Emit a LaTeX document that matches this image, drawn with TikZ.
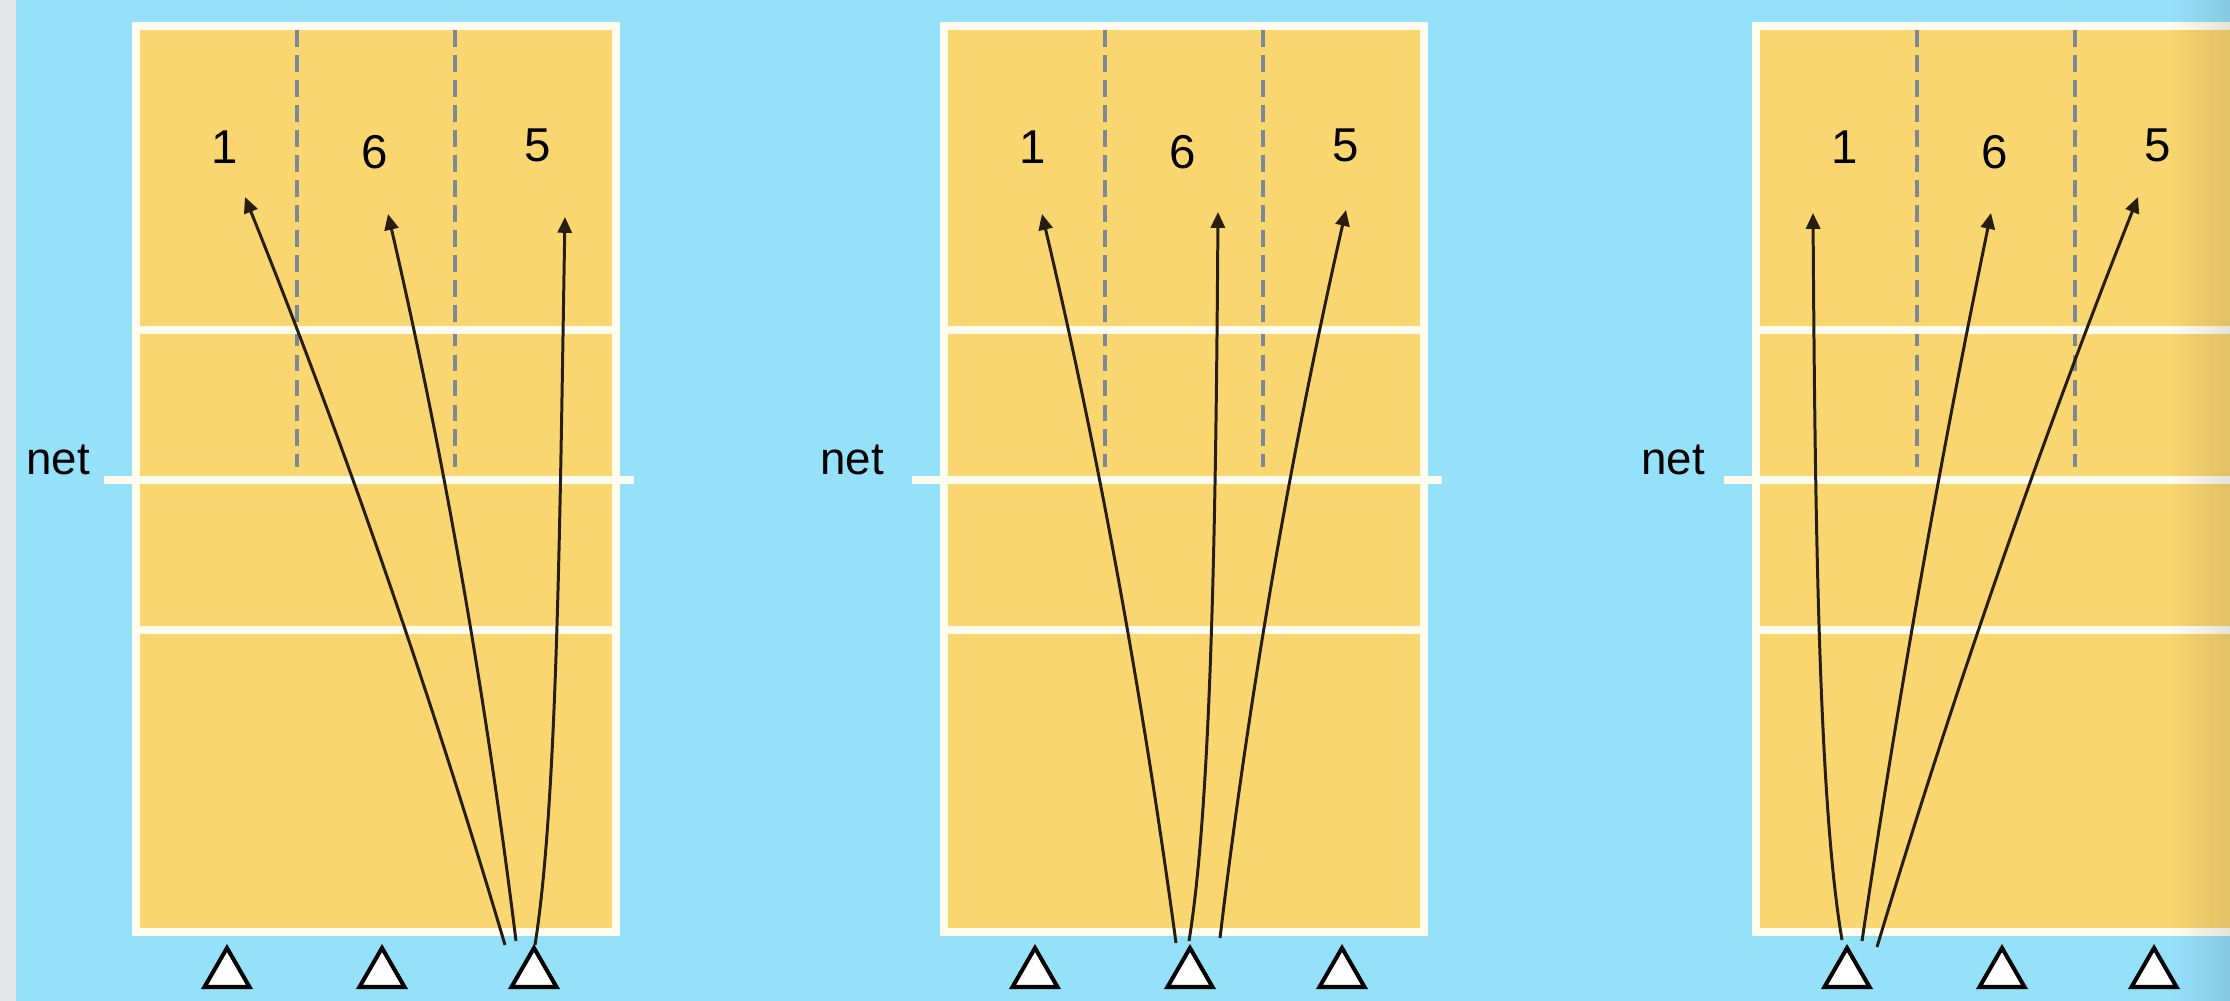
\documentclass[tikz,border=0pt]{standalone}
\usepackage{fontspec}
\setmainfont{Liberation Sans}
\usetikzlibrary{shapes.geometric,arrows.meta,fadings}
\definecolor{bgblue}{RGB}{150,225,250}
\definecolor{stripgrey}{RGB}{228,230,232}
\definecolor{courtyellow}{RGB}{250,214,112}
\definecolor{linewhite}{RGB}{255,252,240}
\definecolor{dashgrey}{RGB}{125,136,150}
\definecolor{arrowcol}{RGB}{40,30,15}
\tikzfading[name=darkright, left color=transparent!100, right color=transparent!0]
\newcommand{\vbcourt}[3]{%
  \begin{scope}[shift={(#2,0)}]
    \fill[courtyellow] (0,26) rectangle (480,932);
    \draw[zoneline] (161,30) -- (161,467);
    \draw[zoneline] (319,30) -- (319,467);
    \draw[courtline] (0,330) -- (480,330);
    \draw[courtline] (0,630) -- (480,630);
    \draw[courtline] (0,26) rectangle (480,932);
    \draw[netline] (-32,480) -- (498,480);
    \node[poslabel] (#1pa) at (89,147) {1};
    \node[poslabel] (#1pb) at (239,152) {6};
    \node[poslabel] (#1pc) at (402,145) {5};
    \node[player] (#1ta) at (91,974) {};
    \node[player] (#1tb) at (246,974) {};
    \node[player] (#1tc) at (398,974) {};
  \end{scope}
  \node[netlabel] (#1net) at (#3,475) {net};
}
\begin{document}
\begin{tikzpicture}[x=0.01cm,y=-0.01cm,
  courtline/.style={draw=linewhite,line width=2.2pt},
  netline/.style={draw=linewhite,line width=2pt},
  zoneline/.style={draw=dashgrey,line width=1pt,dash pattern=on 4.8pt off 2.3pt},
  poslabel/.style={font=\fontsize{13.5}{15}\selectfont,inner sep=0pt,text=black},
  netlabel/.style={font=\fontsize{13}{15}\selectfont,inner sep=0pt,anchor=base,text=black},
  player/.style={regular polygon,regular polygon sides=3,draw=black,fill=white,line width=1.15pt,minimum size=0.52cm,inner sep=0pt},
  pass/.style={draw=arrowcol,line width=0.85pt,-{Triangle[length=4.5pt,width=4pt]}},
]
\useasboundingbox (0,0) rectangle (2230,1001);
\clip (0,0) rectangle (2230,1001);
\fill[bgblue] (0,0) rectangle (2230,1001);
\fill[stripgrey] (0,0) rectangle (16,1001);

\vbcourt{ca}{136}{58}
\vbcourt{cb}{944}{852}
\vbcourt{cc}{1756}{1673}

% court 1 passes
\coordinate (caSa) at (505,945);
\coordinate (caSb) at (516,941);
\coordinate (caSc) at (535,945);
\coordinate (caEa) at (245,197);
\coordinate (caEb) at (388,214);
\coordinate (caEc) at (565,217);
\draw[pass] (caSa) .. controls (431,695) and (345,445) .. (caEa);
\draw[pass] (caSb) .. controls (486,698) and (444,456) .. (caEb);
\draw[pass] (caSc) .. controls (558,800) and (560,500) .. (caEc);

% court 2 passes
\coordinate (cbSa) at (1176,943);
\coordinate (cbSb) at (1189,941);
\coordinate (cbSc) at (1220,938);
\coordinate (cbEa) at (1042,214);
\coordinate (cbEb) at (1218,212);
\coordinate (cbEc) at (1346,210);
\draw[pass] (cbSa) .. controls (1143,699) and (1099,456) .. (cbEa);
\draw[pass] (cbSb) .. controls (1212,800) and (1216,500) .. (cbEb);
\draw[pass] (cbSc) .. controls (1249,695) and (1291,452) .. (cbEc);

% court 3 passes
\coordinate (ccSa) at (1842,940);
\coordinate (ccSb) at (1862,941);
\coordinate (ccSc) at (1877,947);
\coordinate (ccEa) at (1813,213);
\coordinate (ccEb) at (1991,213);
\coordinate (ccEc) at (2138,197);
\draw[pass] (ccSa) .. controls (1818,800) and (1815,500) .. (ccEa);
\draw[pass] (ccSb) .. controls (1898,698) and (1941,455) .. (ccEb);
\draw[pass] (ccSc) .. controls (1952,697) and (2039,447) .. (ccEc);

% soft shadow at the right edge
\fill[black,opacity=0.10,path fading=darkright] (2170,0) rectangle (2230,1001);
\end{tikzpicture}
\end{document}
